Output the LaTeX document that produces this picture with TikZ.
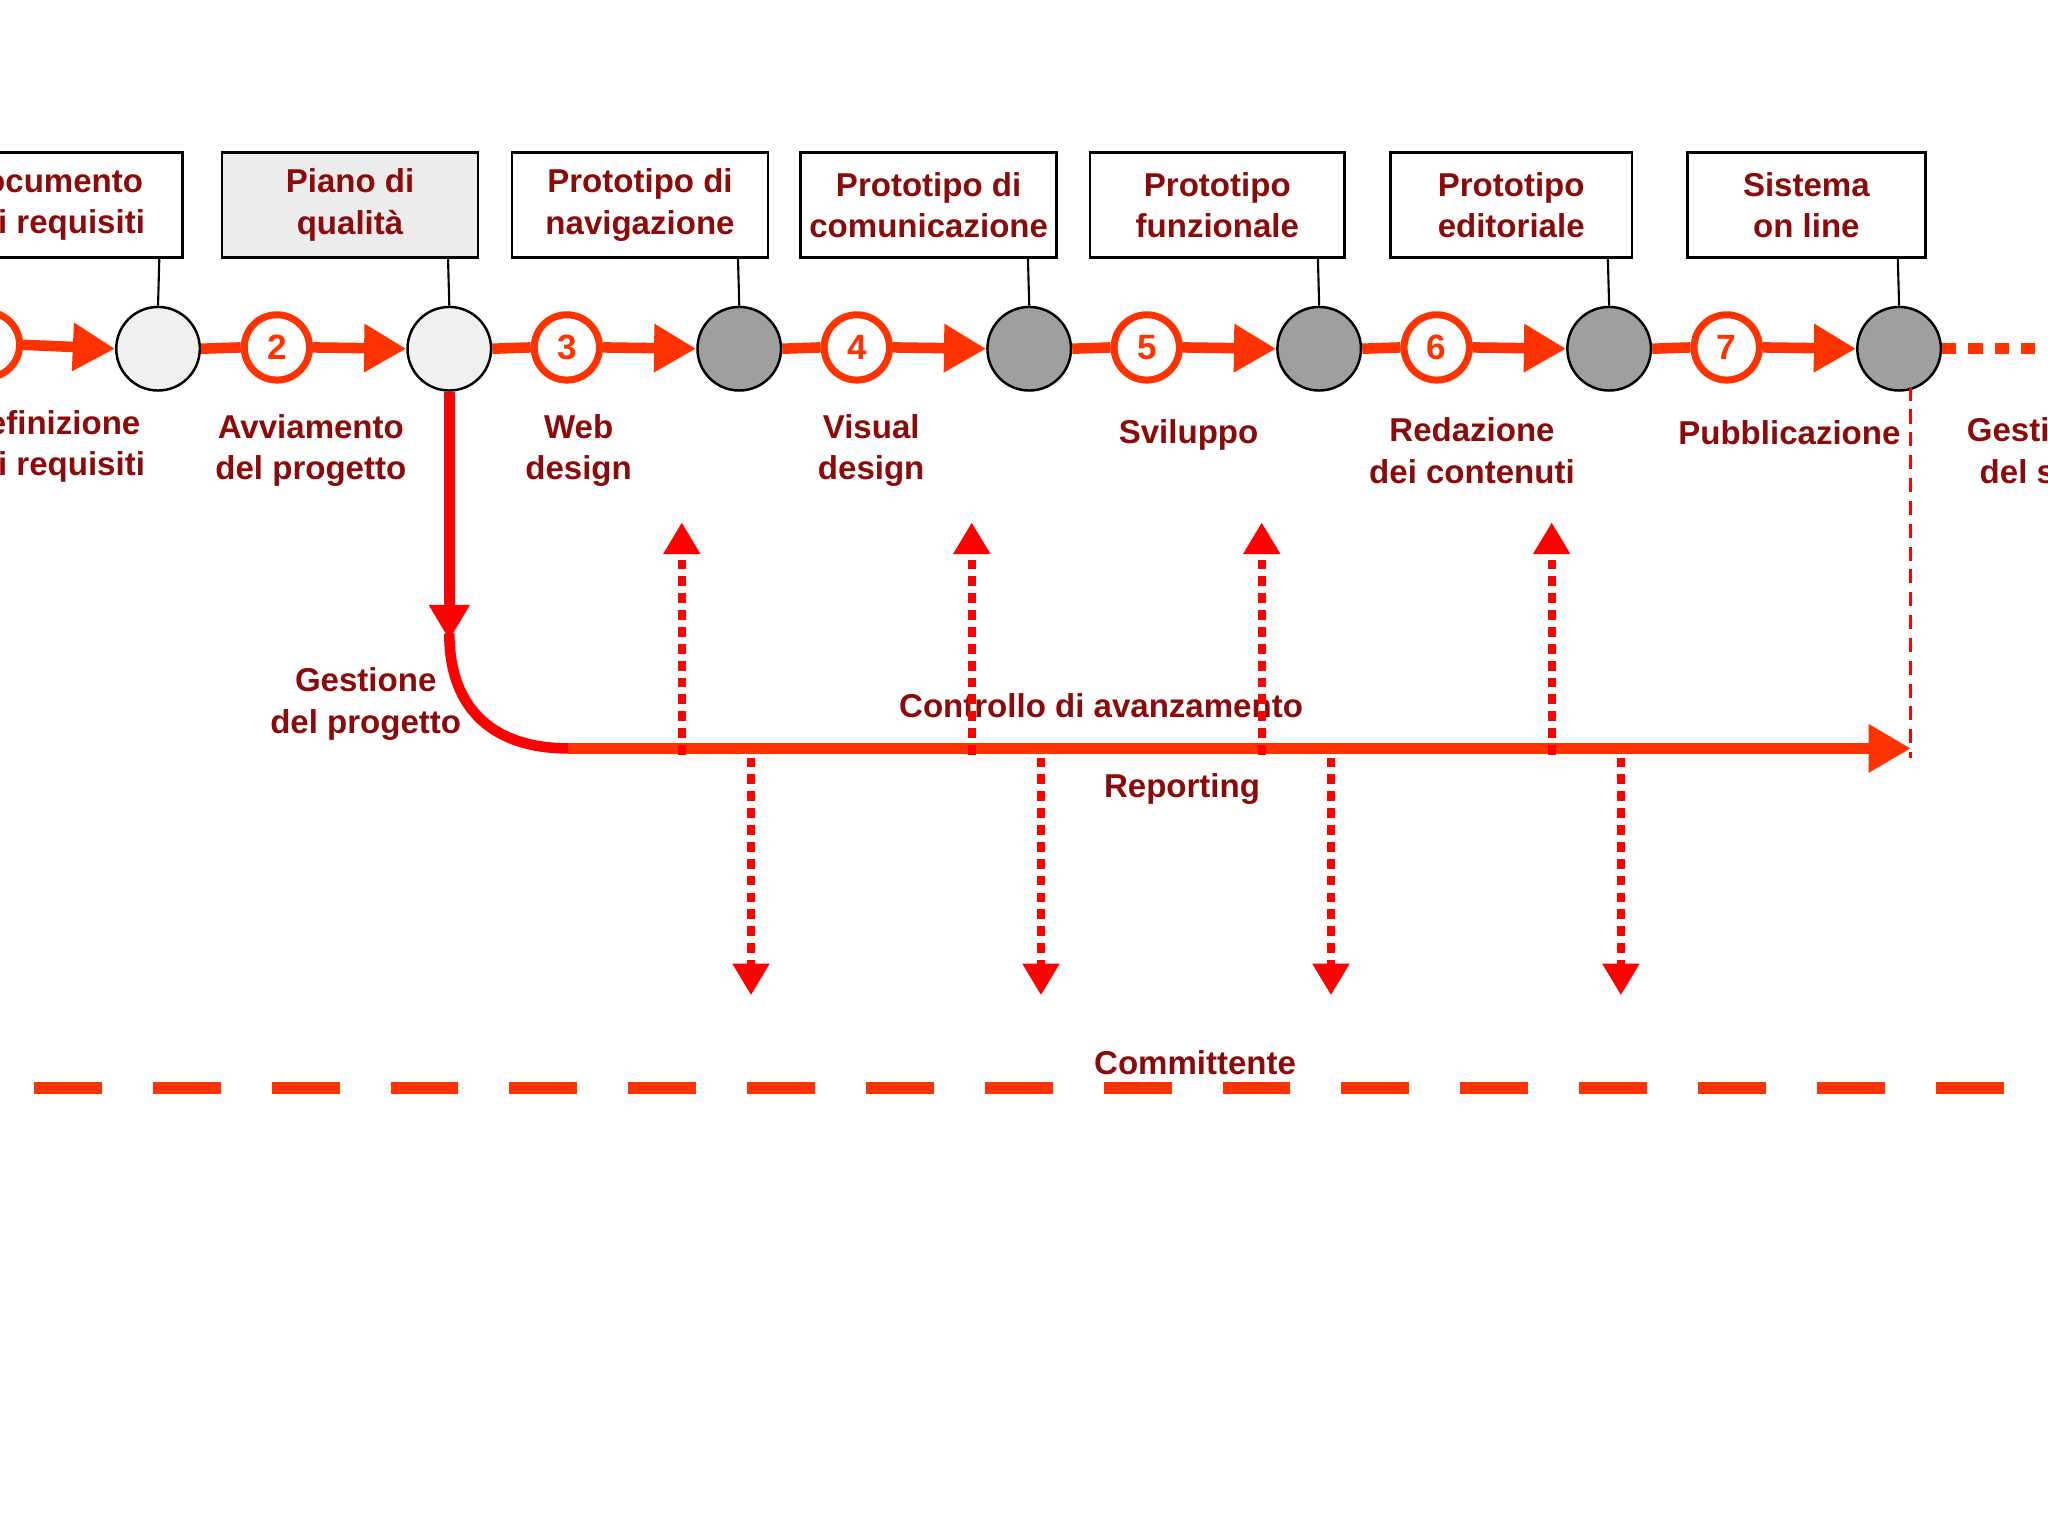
\documentclass[tikz,border=0pt]{standalone}
\usepackage{fontspec}
\setmainfont{Liberation Sans}
\usetikzlibrary{arrows.meta,patterns}
\definecolor{rr}{HTML}{FF3300}
\definecolor{tx}{HTML}{8B0A0A}
\tikzset{
 x=0.01306cm,y=-0.01306cm,
 lbl/.style={text=tx,font=\fontsize{9.4}{11.8}\selectfont\bfseries,align=center},
 box/.style={draw,line width=0.8pt,minimum height=80*0.01306cm,lbl,inner sep=1pt},
 big/.style={circle,draw,line width=0.7pt,minimum size=64*0.01306cm,inner sep=0pt},
 light/.style={big,fill=gray!12},
 dark/.style={big,fill=gray!75},
 num/.style={circle,draw=rr,fill=white,line width=2pt,minimum size=50*0.01306cm,inner sep=0pt,text=rr,font=\fontsize{10}{12}\selectfont\bfseries},
 flow/.style={rr,line width=3pt,-{Triangle[length=12pt,width=13pt]}},
 dot/.style={red,line width=2.2pt,dash pattern=on 2.8pt off 2pt},
 dotarr/.style={dot,-{Triangle[length=9pt,width=10pt]}},
}
\begin{document}
\begin{tikzpicture}
\useasboundingbox (0,0) rectangle (1568,1176);
\fill[white] (0,0) rectangle (1568,1176);
% boxes
\node[box,minimum width=200*0.01306cm] (b1) at (40,157) {Documento\\dei requisiti};
\node[box,fill=gray!15,minimum width=196*0.01306cm] (b2) at (268,157) {Piano di\\qualità};
\node[box,minimum width=196*0.01306cm] (b3) at (490,157) {Prototipo di\\navigazione};
\node[box,minimum width=196*0.01306cm] (b4) at (711,157) {Prototipo di\\comunicazione};
\node[box,minimum width=195*0.01306cm] (b5) at (932,157) {Prototipo\\funzionale};
\node[box,minimum width=185*0.01306cm] (b6) at (1157,157) {Prototipo\\editoriale};
\node[box,minimum width=182*0.01306cm] (b7) at (1383,157) {Sistema\\on line};
% circles
\node[light] (c1) at (121,267) {};
\node[light] (c2) at (344,267) {};
\node[dark] (c3) at (566,267) {};
\node[dark] (c4) at (788,267) {};
\node[dark] (c5) at (1010,267) {};
\node[dark] (c6) at (1232,267) {};
\node[dark] (c7) at (1454,267) {};
\foreach \b/\c/\x in {b1/c1/122,b2/c2/343,b3/c3/565,b4/c4/787,b5/c5/1009,b6/c6/1231,b7/c7/1453}
  \draw[line width=0.6pt] (\x,197) -- (\c.north);
% numbered
\node[num] (n1) at (-10,264) {1};
\node[num] (n2) at (212,266) {2};
\node[num] (n3) at (434,266) {3};
\node[num] (n4) at (656,266) {4};
\node[num] (n5) at (878,266) {5};
\node[num] (n6) at (1100,266) {6};
\node[num] (n7) at (1322,266) {7};
\draw[flow] (n1.east) -- (c1.west);
\draw[rr,line width=3pt] (c1.east) -- (n2.west);
\draw[flow] (n2.east) -- (c2.west);
\draw[rr,line width=3pt] (c2.east) -- (n3.west);
\draw[flow] (n3.east) -- (c3.west);
\draw[rr,line width=3pt] (c3.east) -- (n4.west);
\draw[flow] (n4.east) -- (c4.west);
\draw[rr,line width=3pt] (c4.east) -- (n5.west);
\draw[flow] (n5.east) -- (c5.west);
\draw[rr,line width=3pt] (c5.east) -- (n6.west);
\draw[flow] (n6.east) -- (c6.west);
\draw[rr,line width=3pt] (c6.east) -- (n7.west);
\draw[flow] (n7.east) -- (c7.west);
\coordinate (e7) at (1570,267);
\draw[rr,line width=3pt,dash pattern=on 4pt off 3.5pt] (c7.east) -- (e7);
% labels
\node[lbl] at (40,342) {Definizione\\dei requisiti};
\node[lbl] at (238,345) {Avviamento\\del progetto};
\node[lbl] at (443,345) {Web\\design};
\node[lbl] at (667,345) {Visual\\design};
\node[lbl] at (910,333) {Sviluppo};
\node[lbl] at (1127,345) {Redazione\\dei contenuti};
\node[lbl] at (1370,331) {Pubblicazione};
\node[lbl] at (1560,345) {Gestione\\del sito};
% project management
\coordinate (m2) at (435,573);
\coordinate (m3) at (1463,573);
\coordinate (v1) at (1463,296);
\coordinate (v2) at (1463,580);
\draw[red,line width=3pt,-{Triangle[length=10pt,width=11pt]}] (c2.south) -- (344,490);
\draw[red,line width=3pt] (344,485) .. controls (344,545) and (380,573) .. (m2);
\draw[rr,line width=3pt,-{Triangle[length=12pt,width=13pt]}] (m2) -- (m3);
\draw[red,line width=0.9pt,dash pattern=on 4pt off 2.5pt] (v1) -- (v2);
\node[lbl] at (280,539) {Gestione\\del progetto};
\node[lbl] at (843,540) {Controllo di avanzamento};
\node[lbl] at (905,604) {Reporting};
\foreach \x in {522,744,966,1188} {
  \coordinate (u\x) at (\x,578); \coordinate (t\x) at (\x,400);
  \draw[dotarr] (u\x) -- (t\x);}
\foreach \x in {575,797,1019,1241} {
  \coordinate (d\x) at (\x,580); \coordinate (s\x) at (\x,762);
  \draw[dotarr] (d\x) -- (s\x);}
% committente
\node[lbl] at (915,814) {Committente};
\coordinate (k1) at (26,833); \coordinate (k2) at (1545,833);
\draw[rr,line width=3.3pt,dash pattern=on 52*0.01306cm off 39*0.01306cm] (k1) -- (k2);
\end{tikzpicture}
\end{document}
